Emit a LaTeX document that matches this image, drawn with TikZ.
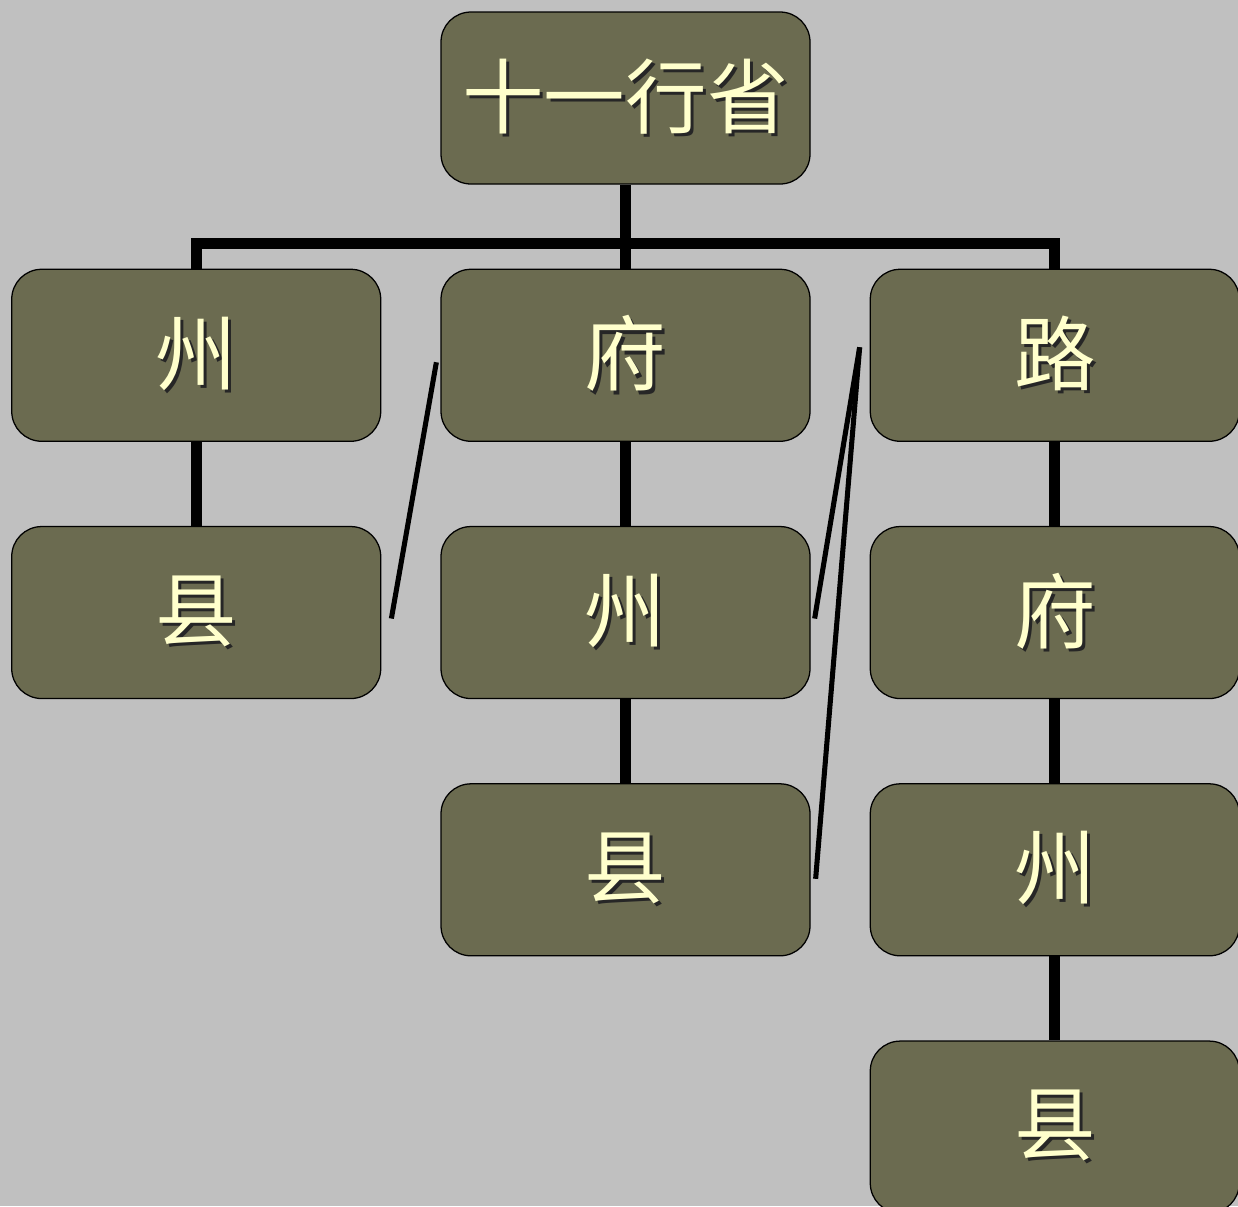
\documentclass[tikz,border=0pt]{standalone}
\usepackage{fontspec}
\usepackage{tikz}
\usetikzlibrary{positioning,calc,backgrounds}
\newfontfamily\cjk{Noto Sans CJK SC}
\definecolor{slide}{HTML}{C0C0C0}
\definecolor{boxfill}{HTML}{6B6B50}
\definecolor{boxtext}{HTML}{FFFFCC}
\newcommand{\shadowed}[1]{\leavevmode\rlap{\kern2.2pt\raisebox{-2.2pt}{\color{black!85}#1}}#1}

\begin{document}
\begin{tikzpicture}[
    node distance=2.1cm and 1.475cm,
    font=\cjk\fontsize{58}{62}\selectfont,
    unit/.style={
		rectangle,
		rounded corners=0.75cm,
		draw=black,
		line width=0.9pt,
		fill=boxfill,
		text=boxtext,
		text centered,
		minimum width=9.225cm,
		minimum height=4.3cm,
		inner sep=0pt
	},
	trunk/.style={
		line width=7.8pt
	},
	link/.style={
		line width=3.6pt
	}
  ]
    % page size
  \useasboundingbox (0,0) rectangle (30.95,-30.15);

    % top
  \node [unit] (xingsheng) at (15.6375,-2.45) {\shadowed{十一行省}};

    % second level
  \node [unit, below=of xingsheng] (fu2) {\shadowed{府}};
  \node [unit, left=of fu2] (zhou1) {\shadowed{州}};
  \node [unit, right=of fu2] (lu3) {\shadowed{路}};

    % lower levels
  \node [unit, below=of zhou1] (xian1) {\shadowed{县}};
  \node [unit, below=of fu2] (zhou2) {\shadowed{州}};
  \node [unit, below=of zhou2] (xian2) {\shadowed{县}};
  \node [unit, below=of lu3] (fu3) {\shadowed{府}};
  \node [unit, below=of fu3] (zhou3) {\shadowed{州}};
  \node [unit, below=of zhou3] (xian3) {\shadowed{县}};

    % background and connectors behind the boxes
  \begin{scope}[on background layer]
  \fill [slide] (0,0) rectangle (30.95,-30.15);
  \draw [trunk] (xingsheng) -- (fu2);
  \draw [trunk] (zhou1.north) -- ++(0,0.625) -| (lu3.north);
  \draw [trunk] (zhou1) -- (xian1);
  \draw [trunk] (fu2) -- (xian2);
  \draw [trunk] (lu3) -- (xian3);
  \end{scope}

  \coordinate (fu2in) at ($(fu2.west)+(-0.1,-0.175)$);
  \coordinate (xian1in) at ($(xian1.east)+(0.25,-0.15)$);
  \coordinate (lu3in) at ($(lu3.west)+(-0.25,0.2)$);
  \coordinate (zhou2in) at ($(zhou2.east)+(0.1,-0.15)$);
  \coordinate (xian2in) at ($(xian2.east)+(0.125,-0.225)$);

  \draw [link] (fu2in) -- (xian1in);
  \draw [link] (lu3in) -- (zhou2in);
  \draw [link] (lu3in) -- (xian2in);

\end{tikzpicture}
\end{document}
